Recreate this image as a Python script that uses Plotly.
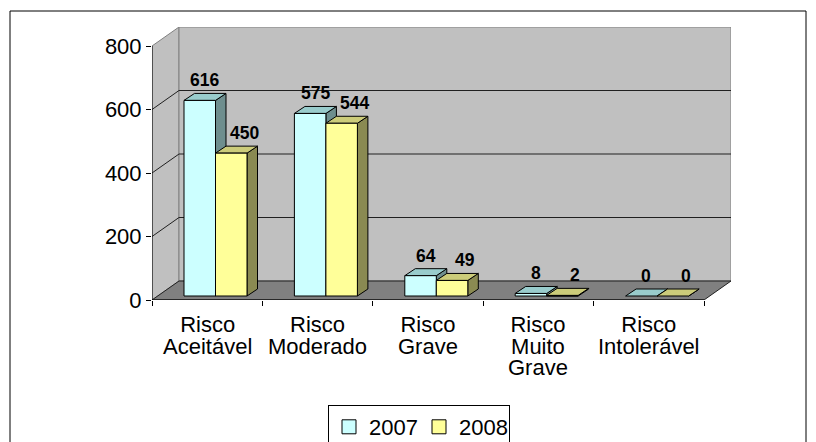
import plotly.graph_objects as go

# ---------------- data ----------------
categories = ["Risco<br>Aceitável", "Risco<br>Moderado", "Risco<br>Grave",
              "Risco<br>Muito<br>Grave", "Risco<br>Intolerável"]
series_names = ["2007", "2008"]
values_2007 = [616, 575, 64, 8, 0]
values_2008 = [450, 544, 49, 2, 0]
y_ticks = [0, 200, 400, 600, 800]

# ---------------- geometry / style ----------------
W, H = 816, 442
ML, MR, MT, MB = 152, 85, 27, 142
PX_X = 110.4            # pixels per category unit
PX_Y = 254 / 800        # pixels per value unit
DX = 27 / PX_X          # wall depth in x units
DY = 19 / PX_Y          # wall depth in y units
YMAX = 800
XR = len(categories) + DX
YR = YMAX + DY

BAR_OFF = 32 / PX_X
BAR_W = 31.5 / PX_X
BASE = 4 / PX_Y
BDX = 10.5 / PX_X
BDY = 7 / PX_Y

FONT = "Arial, Liberation Sans, sans-serif"
TXT = 22
LINE_PX = 21.5          # line spacing of the category labels
colors = {
    "2007": dict(front="#CCFFFF", top="#99CCCC", side="#6E8E8E"),
    "2008": dict(front="#FFFF99", top="#CCCC7A", side="#8A8A52"),
}
label_xshift = {"2007": 5, "2008": 13}

fig = go.Figure()

# ---------------- walls, floor, grid ----------------
shapes = []
ncat = len(categories)
shapes.append(dict(type="path", xref="x", yref="y", layer="below",
                   path=f"M 0,0 L 0,{YMAX} L {DX},{YMAX+DY} L {DX},{DY} Z",
                   fillcolor="#C0C0C0", line=dict(color="#808080", width=1)))
shapes.append(dict(type="rect", xref="x", yref="y", layer="below",
                   x0=DX, x1=ncat + DX, y0=DY, y1=YMAX + DY,
                   fillcolor="#C0C0C0", line=dict(color="#808080", width=1)))
shapes.append(dict(type="path", xref="x", yref="y", layer="below",
                   path=f"M 0,0 L {ncat},0 L {ncat+DX},{DY} L {DX},{DY} Z",
                   fillcolor="#808080", line=dict(color="#202020", width=1)))
for t in y_ticks[1:-1]:
    shapes.append(dict(type="path", xref="x", yref="y", layer="below",
                       path=f"M 0,{t} L {DX},{t+DY} L {ncat+DX},{t+DY}",
                       line=dict(color="#202020", width=1)))
# axis lines
shapes.append(dict(type="line", xref="x", yref="y", x0=0, x1=0, y0=0, y1=YMAX,
                   line=dict(color="black", width=1)))
shapes.append(dict(type="line", xref="x", yref="y", x0=0, x1=ncat, y0=0, y1=0,
                   line=dict(color="black", width=1)))
# outer chart border
def px2paper_x(px):
    return (px - ML) / (W - ML - MR)
def px2paper_y(py):
    return (H - MB - py) / (H - MT - MB)
shapes.append(dict(type="rect", xref="paper", yref="paper",
                   x0=px2paper_x(10), x1=px2paper_x(806),
                   y0=px2paper_y(448), y1=px2paper_y(11),
                   line=dict(color="black", width=1), fillcolor="rgba(0,0,0,0)"))

# ---------------- 3D bars ----------------
annotations = []
def poly(xs, ys, fill):
    fig.add_trace(go.Scatter(x=xs + [xs[0]], y=ys + [ys[0]], mode="lines",
                             fill="toself", fillcolor=fill,
                             line=dict(color="black", width=1),
                             showlegend=False, hoverinfo="skip"))

series = [values_2007, values_2008]
for i in range(ncat):
    for s, name in enumerate(series_names):
        v = series[s][i]
        c = colors[name]
        x0 = i + BAR_OFF + s * BAR_W
        x1 = x0 + BAR_W
        y0 = BASE
        y1 = BASE + v
        # side face
        poly([x1, x1, x1 + BDX, x1 + BDX], [y0, y1, y1 + BDY, y0 + BDY], c["side"])
        # top face
        poly([x0, x1, x1 + BDX, x0 + BDX], [y1, y1, y1 + BDY, y1 + BDY], c["top"])
        # front face
        if v > 0:
            poly([x0, x1, x1, x0], [y0, y0, y1, y1], c["front"])
        annotations.append(dict(x=(x0 + x1) / 2, y=y1, xref="x", yref="y",
                                text=f"<b>{v}</b>", showarrow=False,
                                xshift=label_xshift[name], yshift=20,
                                yanchor="middle",
                                font=dict(family=FONT, size=17.5, color="black")))

# category labels: base font sets the (tight) line spacing, spans set glyph size
base_size = LINE_PX / 1.3
for i, cat in enumerate(categories):
    txt = "<br>".join(f"<span style='font-size:{TXT}px'>{ln}</span>"
                      for ln in cat.split("<br>"))
    annotations.append(dict(x=i + 0.5, y=0, xref="x", yref="y", text=txt,
                            showarrow=False, yanchor="top", yshift=-10,
                            font=dict(family=FONT, size=base_size, color="black")))

# legend entries
for name in series_names:
    fig.add_trace(go.Scatter(x=[None], y=[None], mode="markers", name=name,
                             marker=dict(symbol="square", size=14,
                                         color=colors[name]["front"],
                                         line=dict(color="black", width=1))))

fig.update_layout(
    width=W, height=H,
    margin=dict(l=ML, r=MR, t=MT, b=MB, pad=0, autoexpand=False),
    paper_bgcolor="white", plot_bgcolor="white",
    font=dict(family=FONT, size=TXT, color="black"),
    shapes=shapes, annotations=annotations,
    showlegend=True,
    legend=dict(orientation="h", x=px2paper_x(419), xanchor="center",
                y=px2paper_y(405), yanchor="top",
                bordercolor="black", borderwidth=1, bgcolor="white",
                font=dict(family=FONT, size=TXT, color="black"),
                itemwidth=30, tracegroupgap=0, entrywidth=45),
    xaxis=dict(range=[0, XR], showgrid=False, zeroline=False, showline=False,
               tickmode="array", tickvals=list(range(ncat + 1)),
               showticklabels=False, ticks="outside", ticklen=5,
               tickcolor="black", fixedrange=True),
    yaxis=dict(range=[0, YR], showgrid=False, zeroline=False, showline=False,
               tickmode="array", tickvals=y_ticks,
               ticktext=[str(t) for t in y_ticks],
               ticks="outside", ticklen=5, tickcolor="black",
               tickfont=dict(family=FONT, size=TXT, color="black"),
               fixedrange=True),
)

fig.write_html("out.html", config={"displayModeBar": False},
               post_script="document.body.style.margin='0';"
                           "document.body.style.padding='0';"
                           "document.body.style.overflow='hidden';")
